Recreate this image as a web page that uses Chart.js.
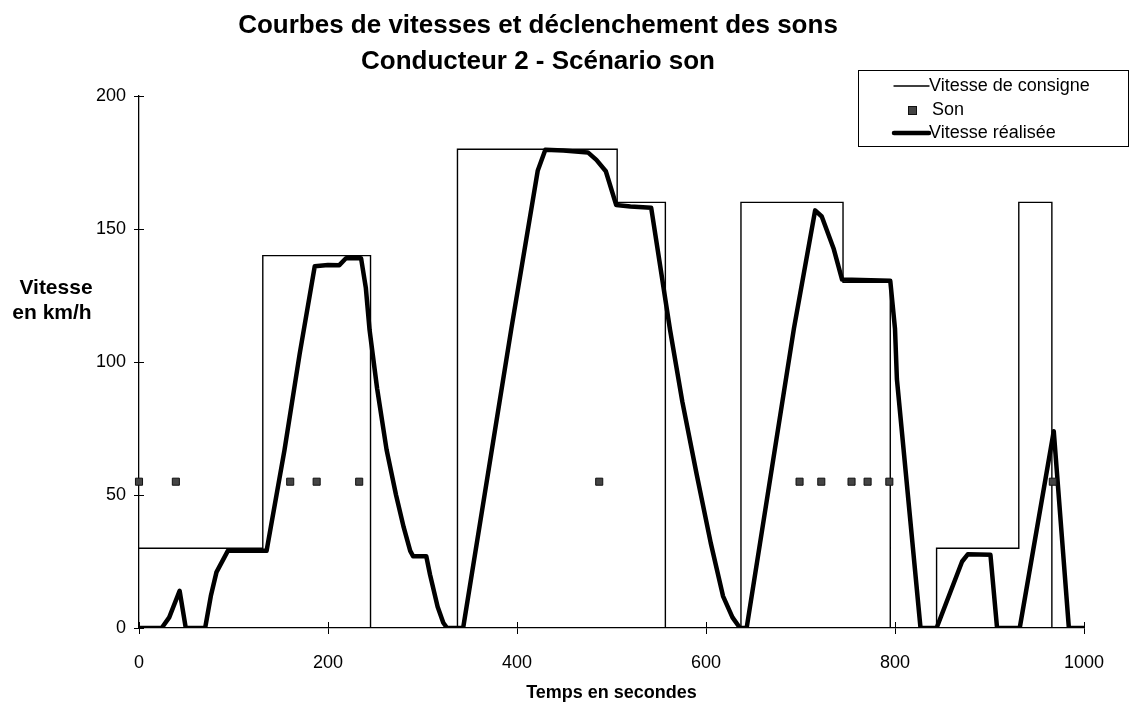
<!DOCTYPE html>
<html>
<head>
<meta charset="utf-8">
<script src="https://cdn.jsdelivr.net/npm/chart.js@4.4.1/dist/chart.umd.min.js"></script>
<style>
  html, body { margin: 0; padding: 0; background: #fff; }
  #wrap { width: 1140px; height: 710px; position: relative; }
</style>
</head>
<body>
<div id="wrap"><canvas id="c" width="1140" height="710"></canvas></div>
<script>
// Vitesse de consigne (paliers) : instants (s) et vitesses (km/h)
const consigneT = [0, 131, 131, 245, 245, 337, 337, 506, 506, 557, 557, 637, 637, 745, 745, 795, 795, 844, 844, 931, 931, 966, 966, 1000];
const consigneV = [30, 30, 140, 140, 0, 0, 180, 180, 160, 160, 0, 0, 160, 160, 130, 130, 0, 0, 30, 30, 160, 160, 0, 0];

// Instants de déclenchement des sons (s) et niveau d'affichage (km/h)
const sonT = [0, 39, 160, 188, 233, 487, 699, 722, 754, 771, 794, 967];
const sonV = [55, 55, 55, 55, 55, 55, 55, 55, 55, 55, 55, 55];

// Vitesse réalisée par le conducteur 2
const realT = [0, 24, 32, 43, 49.5, 70, 76, 82, 94, 100, 135, 154, 170, 186, 200, 212, 219, 235, 240, 244, 252, 262, 272, 280, 287, 290, 304, 308, 316, 322, 326, 343, 394, 422, 430, 449, 475, 484, 494, 505, 520, 542, 552, 562, 575, 590, 605, 618, 628, 636, 643, 693, 715.5, 722.5, 735, 744, 795, 800, 802, 827, 844, 871, 877, 901, 908, 932, 968, 984, 1000];
const realV = [0, 0, 4, 14, 0, 0, 12, 21, 29, 29, 29, 67, 103, 136, 136.5, 136.4, 139, 139, 128, 112, 90, 67, 50, 38, 29, 27, 27, 20, 8, 2, 0, 0, 112.5, 172, 179.8, 179.5, 178.8, 176, 171.7, 159, 158.5, 158, 135, 112, 85, 58, 32, 12, 4, 0, 0, 112.5, 157, 154.7, 142.7, 131, 130.5, 112.5, 93.6, 0, 0, 25, 27.7, 27.5, 0, 0, 74, 0, 0];

// Graduations des axes
const xTicks = [0, 200, 400, 600, 800, 1000];
const yTicks = [0, 50, 100, 150, 200];

const titleLines = ['Courbes de vitesses et déclenchement des sons', 'Conducteur 2 - Scénario son'];
const xTitle = 'Temps en secondes';
const yTitleLines = ['Vitesse', 'en km/h'];

const FONT = '"Liberation Sans", Arial, Helvetica, sans-serif';
const toXY = (ts, vs) => ts.map((t, i) => ({ x: t, y: vs[i] }));

// Titre principal et titre de l'axe vertical (horizontal, à gauche)
const textPlugin = {
  id: 'texts',
  afterDraw(chart) {
    const ctx = chart.ctx;
    ctx.save();
    ctx.fillStyle = '#000';
    ctx.textAlign = 'center';
    ctx.textBaseline = 'middle';
    ctx.font = 'bold 26px ' + FONT;
    ctx.fillText(titleLines[0], 538, 26);
    ctx.fillText(titleLines[1], 538, 62);
    ctx.font = 'bold 21px ' + FONT;
    ctx.fillText(yTitleLines[0], 56, 288);
    ctx.fillText(yTitleLines[1], 52, 313);
    ctx.restore();
  }
};

// Petites graduations croisant les axes (partie intérieure)
const crossTicks = {
  id: 'crossTicks',
  afterDatasetsDraw(chart) {
    const { ctx, scales: { x, y } } = chart;
    ctx.save();
    ctx.strokeStyle = '#000';
    ctx.lineWidth = 1;
    ctx.beginPath();
    yTicks.forEach(v => {
      const py = Math.round(y.getPixelForValue(v)) + 0.5;
      ctx.moveTo(x.left, py);
      ctx.lineTo(x.left + 5, py);
    });
    xTicks.forEach(v => {
      const px = Math.round(x.getPixelForValue(v)) + 0.5;
      ctx.moveTo(px, y.bottom);
      ctx.lineTo(px, y.bottom - 6);
    });
    ctx.stroke();
    ctx.restore();
  }
};

// Légende encadrée en haut à droite
const boxLegend = {
  id: 'boxLegend',
  afterDraw(chart) {
    const ctx = chart.ctx;
    const ds = chart.data.datasets;
    const bx = 858, by = 70, bw = 270, bh = 76;
    ctx.save();
    ctx.fillStyle = '#fff';
    ctx.fillRect(bx, by, bw, bh);
    ctx.strokeStyle = '#000';
    ctx.lineWidth = 1;
    ctx.strokeRect(bx + 0.5, by + 0.5, bw, bh);
    ctx.font = '18px ' + FONT;
    ctx.textBaseline = 'middle';
    ctx.textAlign = 'left';
    const rows = [by + 16, by + 40, by + 63];
    ds.forEach((d, i) => {
      const ry = rows[i];
      if (d.showLine === false) {
        ctx.fillStyle = d.backgroundColor;
        ctx.strokeStyle = d.borderColor;
        ctx.lineWidth = 1;
        ctx.fillRect(bx + 50, ry - 4, 9, 9);
        ctx.strokeRect(bx + 50.5, ry - 3.5, 8, 8);
        ctx.fillStyle = '#000';
        ctx.fillText(d.label, bx + 74, ry);
      } else {
        ctx.strokeStyle = d.borderColor;
        ctx.lineWidth = d.borderWidth;
        ctx.lineCap = 'round';
        ctx.beginPath();
        ctx.moveTo(bx + 36, ry);
        ctx.lineTo(bx + 71, ry);
        ctx.stroke();
        ctx.fillStyle = '#000';
        ctx.fillText(d.label, bx + 71, ry);
      }
    });
    ctx.restore();
  }
};

new Chart(document.getElementById('c'), {
  type: 'scatter',
  data: {
    datasets: [
      {
        label: 'Vitesse de consigne',
        data: toXY(consigneT, consigneV),
        showLine: true,
        borderColor: '#000',
        borderWidth: 1.4,
        pointRadius: 0,
        tension: 0,
        order: 2
      },
      {
        label: 'Son',
        data: toXY(sonT, sonV),
        showLine: false,
        clip: false,
        pointStyle: 'rect',
        pointRadius: 5,
        backgroundColor: '#444',
        borderColor: '#111',
        borderWidth: 1,
        order: 0
      },
      {
        label: 'Vitesse réalisée',
        data: toXY(realT, realV),
        showLine: true,
        borderColor: '#000',
        borderWidth: 4.5,
        borderJoinStyle: 'round',
        borderCapStyle: 'round',
        pointRadius: 0,
        tension: 0,
        order: 1
      }
    ]
  },
  options: {
    responsive: false,
    animation: false,
    events: [],
    layout: { padding: { top: 96, right: 56, left: 0, bottom: 0 } },
    plugins: { legend: { display: false }, tooltip: { enabled: false } },
    scales: {
      x: {
        type: 'linear',
        min: 0,
        max: 1000,
        afterBuildTicks(scale) { scale.ticks = xTicks.map(v => ({ value: v })); },
        afterFit(scale) { scale.height = 82; },
        border: { display: true, color: '#000', width: 1.3 },
        grid: { drawOnChartArea: false, drawTicks: true, tickLength: 6, color: '#000' },
        ticks: { color: '#000', font: { family: FONT, size: 18 }, padding: 18, maxRotation: 0, callback: v => String(v) },
        title: { display: true, text: xTitle, color: '#000', font: { family: FONT, size: 18, weight: 'bold' }, padding: { top: 10, bottom: 6 } }
      },
      y: {
        type: 'linear',
        min: 0,
        max: 200,
        afterBuildTicks(scale) { scale.ticks = yTicks.map(v => ({ value: v })); },
        afterFit(scale) { scale.width = 139; },
        border: { display: true, color: '#000', width: 1.3 },
        grid: { drawOnChartArea: false, drawTicks: true, tickLength: 5, color: '#000' },
        ticks: { color: '#000', font: { family: FONT, size: 18 }, padding: 8, callback: v => String(v) }
      }
    }
  },
  plugins: [textPlugin, crossTicks, boxLegend]
});
</script>
</body>
</html>
